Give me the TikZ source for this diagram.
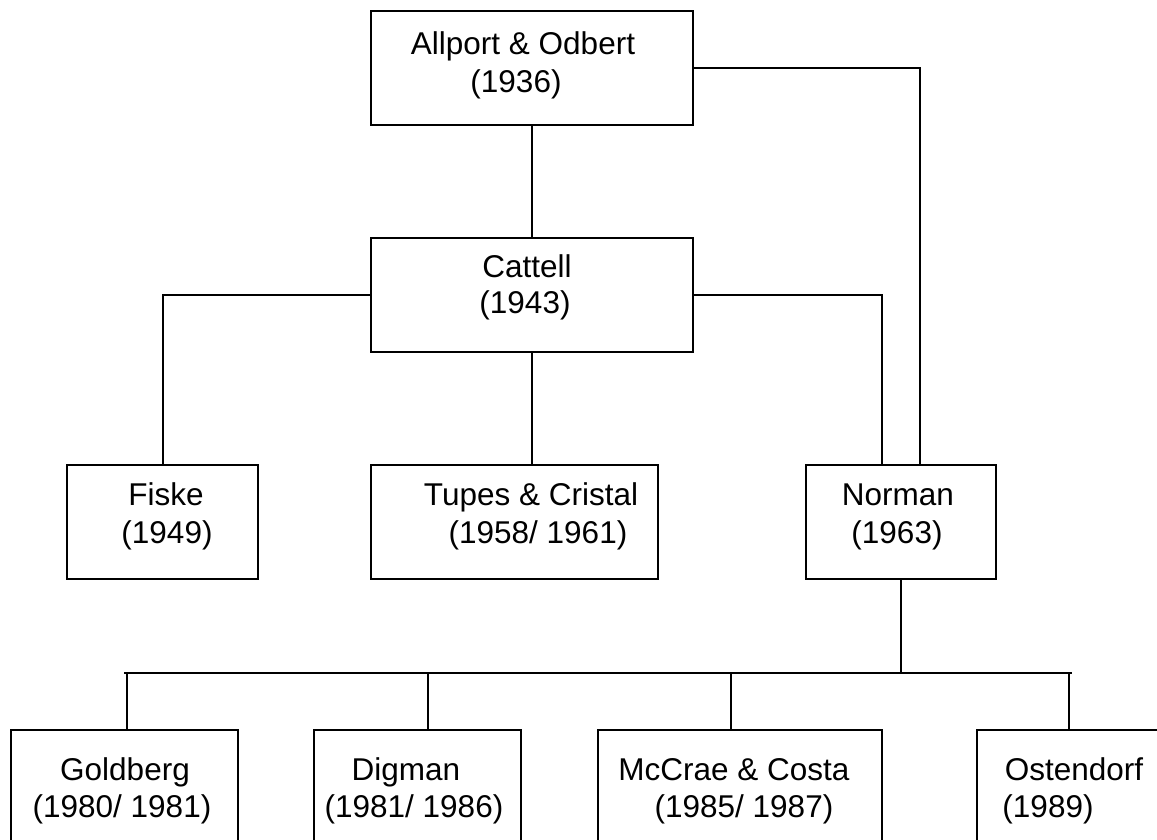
\documentclass[tikz,border=0pt]{standalone}
\usepackage{fontspec}
\setmainfont{Liberation Sans}
\begin{document}
\begin{tikzpicture}[x=1pt, y=-1pt,
  box/.style={draw, line width=2pt, rectangle, inner sep=0pt},
  upper/.style={box, minimum height=114pt},
  lower/.style={box, minimum height=140pt},
  ln/.style={anchor=base, inner sep=0pt, font=\fontsize{31.5}{37}\selectfont},
  wire/.style={line width=2pt}]
\clip (0,0) rectangle (1157,840);
\fill[white] (0,0) rectangle (1157,840);

% boxes
\node[upper, minimum width=322pt] (allport) at (532,68) {};
\node[upper, minimum width=322pt] (cattell) at (532,295) {};
\node[upper, minimum width=191pt] (fiske) at (162.5,522) {};
\node[upper, minimum width=287pt] (tupes) at (514.5,522) {};
\node[upper, minimum width=190pt] (norman) at (901,522) {};
\node[lower, minimum width=227pt] (goldberg) at (124.5,800) {};
\node[lower, minimum width=207pt] (digman) at (417.5,800) {};
\node[lower, minimum width=284pt] (mccrae) at (740,800) {};
\node[lower, minimum width=184pt] (ostendorf) at (1069,800) {};

% labels
\node[ln] (allport-a) at (523,55) {Allport \& Odbert};
\node[ln] (allport-b) at (516,93) {(1936)};
\node[ln] (cattell-a) at (527,277) {Cattell};
\node[ln] (cattell-b) at (525,313) {(1943)};
\node[ln] (fiske-a) at (166,505) {Fiske};
\node[ln] (fiske-b) at (167,543) {(1949)};
\node[ln] (tupes-a) at (531,505) {Tupes \& Cristal};
\node[ln] (tupes-b) at (538,543) {(1958/ 1961)};
\node[ln] (norman-a) at (898,505) {Norman};
\node[ln] (norman-b) at (897,543) {(1963)};
\node[ln] (goldberg-a) at (125,780) {Goldberg};
\node[ln] (goldberg-b) at (122,817) {(1980/ 1981)};
\node[ln] (digman-a) at (406,780) {Digman};
\node[ln] (digman-b) at (414,817) {(1981/ 1986)};
\node[ln] (mccrae-a) at (734,780) {McCrae \& Costa};
\node[ln] (mccrae-b) at (744,817) {(1985/ 1987)};
\node[ln] (ostendorf-a) at (1074,780) {Ostendorf};
\node[ln] (ostendorf-b) at (1048,817) {(1989)};

% bus ends below Norman
\coordinate (busL) at (124,673);
\coordinate (busR) at (1072,673);

% connectors
\draw[wire] (allport.south) -- (cattell.north);
\draw[wire, line width=2.6pt] (allport.east) -| ([xshift=19pt]norman.north);
\draw[wire] (cattell.east) -| ([xshift=-19pt]norman.north);
\draw[wire] (cattell.west) -| (fiske.north);
\draw[wire] (cattell.south) -- (cattell.south |- tupes.north);
\draw[wire] (norman.south) -- (norman.south |- busL);
\draw[wire] (busL) -- (busR);
\draw[wire] ([xshift=2.5pt]goldberg.north) -- ([xshift=2.5pt]goldberg.north |- busL);
\draw[wire] ([xshift=10.5pt]digman.north) -- ([xshift=10.5pt]digman.north |- busL);
\draw[wire] ([xshift=-9pt]mccrae.north) -- ([xshift=-9pt]mccrae.north |- busL);
\draw[wire] (ostendorf.north) -- (ostendorf.north |- busL);
\end{tikzpicture}
\end{document}
